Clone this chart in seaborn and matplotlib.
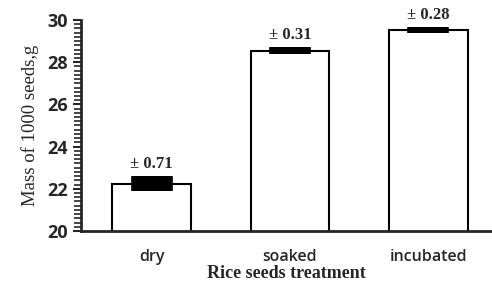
import matplotlib
matplotlib.use("Agg")
import matplotlib.pyplot as plt
from matplotlib.ticker import MultipleLocator
import seaborn as sns

treatments = ["dry", "soaked", "incubated"]
mass = [22.23, 28.55, 29.52]
err = [0.71, 0.31, 0.28]

sns.set_style("ticks")

fig = plt.figure(figsize=(4.92, 2.82), dpi=100)
ax = fig.add_axes([0.165, 0.181, 0.835, 0.748])

sns.barplot(x=treatments, y=mass, color="white", saturation=1, edgecolor="black",
            linewidth=1.5, width=0.57, ax=ax)

# thick black blocks for the error
eb = ax.errorbar(range(len(mass)), mass, yerr=[e / 2 for e in err], fmt="none",
                 ecolor="black", elinewidth=30)
eb[2][0].set_capstyle("butt")

for i, (m, e) in enumerate(zip(mass, err)):
    ax.annotate(f"± {e:.2f}", (i, m + e / 2), xytext=(0, 3), textcoords="offset points",
                ha="center", va="bottom", fontsize=12, fontweight="bold",
                family="Liberation Serif")

ax.set_ylim(20, 30)
ax.set_xlim(-0.51, 2.46)
ax.set_yticks(range(20, 31, 2))
ax.yaxis.set_minor_locator(MultipleLocator(0.2))
ax.tick_params(axis="y", which="major", length=6, width=1.5, labelsize=13)
ax.tick_params(axis="y", which="minor", length=5, width=1.2)
ax.tick_params(axis="x", length=0, pad=13, labelsize=11.5)
for lab in ax.get_yticklabels():
    lab.set_fontweight("bold")
    lab.set_family("Open Sans")
for lab in ax.get_xticklabels():
    lab.set_family("Open Sans")
    lab.set_fontweight("semibold")

ax.set_xlabel("Rice seeds treatment", fontsize=13, fontweight="bold",
              family="Liberation Serif", labelpad=0)
ax.set_ylabel("Mass of 1000 seeds,g", fontsize=13.5, family="Liberation Serif", labelpad=6)

sns.despine(ax=ax)
ax.spines["left"].set_linewidth(2)
ax.spines["bottom"].set_linewidth(2)

fig.savefig("out.png", dpi=100)
